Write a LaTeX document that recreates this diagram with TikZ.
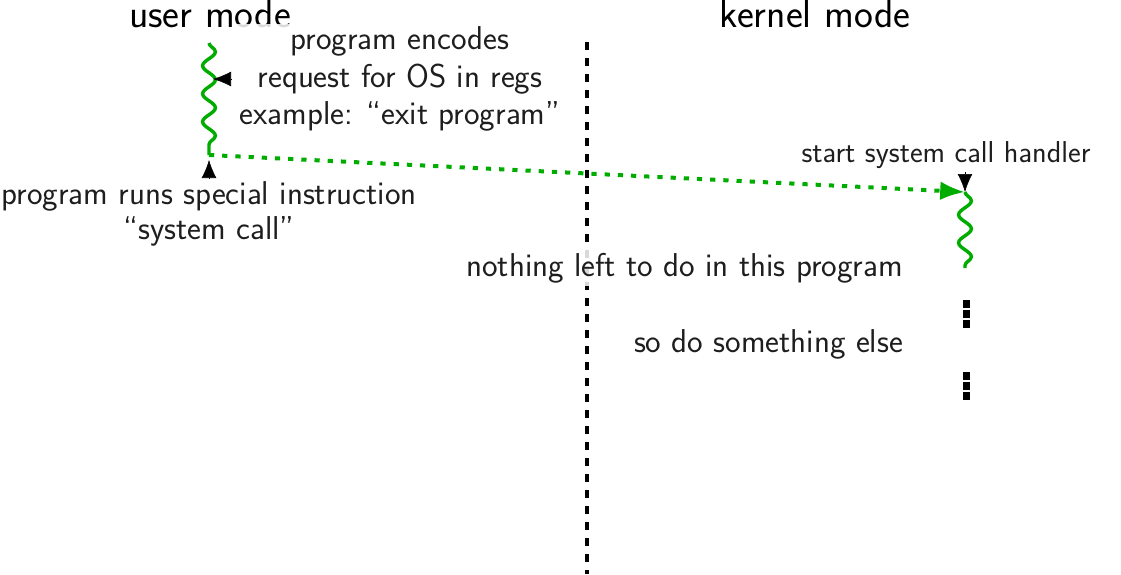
\documentclass[tikz,border=0pt]{standalone}
\usetikzlibrary{decorations.pathmorphing,arrows.meta}
\definecolor{grn}{RGB}{0,172,0}
\definecolor{txtc}{RGB}{30,30,30}
\begin{document}
\begin{tikzpicture}[x=0.025cm,y=-0.025cm,
  txt/.style={font=\sffamily\fontsize{23.5}{26.7}\selectfont, text=txtc, align=center,
    fill=white, fill opacity=0.85, text opacity=1, inner sep=2pt},
  title/.style={font=\sffamily\fontsize{28.5}{32}\selectfont, text=black, inner sep=0pt},
  vline/.style={line width=0.1cm, dash pattern=on 0.2cm off 0.2cm, black},
  wave/.style={grn, line width=0.085cm, decorate,
    decoration={snake, amplitude=0.16cm, segment length=0.7cm, pre length=0pt, post length=0pt}},
  gdot/.style={grn, line width=0.1cm, dash pattern=on 0.13cm off 0.2cm,
    -{Latex[length=0.62cm,width=0.47cm]}},
  blk/.style={black, line width=0.4pt, -{Latex[length=0.45cm,width=0.37cm]}},
  sq/.style={black, line width=0.175cm, dash pattern=on 0.21cm off 0.035cm}]
\useasboundingbox (0,0) rectangle (1121,574);

% vertical separator
\coordinate (vtop) at (587,42);
\coordinate (vbot) at (587,574);
\draw[vline] (vtop) -- (vbot);

% titles
\node[title, anchor=base] (user) at (210,27) {user mode};
\node[title, anchor=base] (kern) at (815,27) {kernel mode};

% coordinates
\coordinate (u1) at (209,43);
\coordinate (u2) at (209,155);
\coordinate (k1) at (965,192);
\coordinate (k2) at (965,268);

% green waves and transfer
\draw[wave] (u1) -- (u2);
\draw[wave] (k1) -- (k2);
\draw[gdot] (u2) -- (k1);

% texts
\node[txt] (enc) at (400,79) {program encodes\\request for OS in regs\\example: “exit program”};
\node[txt, font=\sffamily\fontsize{23.5}{24.9}\selectfont] (sys) at (209,214) {program runs special instruction\\“system call”};
\node[txt, font=\sffamily\fontsize{21.5}{26}\selectfont, anchor=base] (start) at (946,162) {start system call handler};
\node[txt, anchor=base east] (noth) at (906,276) {nothing left to do in this program};
\node[txt, anchor=base east] (else) at (906,352) {so do something else};

% black arrowheads
\coordinate (a1b) at (231,79);  \coordinate (a1) at (213,79);
\coordinate (a2b) at (209,178); \coordinate (a2) at (209,160);
\coordinate (a3b) at (965,172); \coordinate (a3) at (965,192);
\draw[blk] (a1b) -- (a1);
\draw[blk] (a2b) -- (a2);
\draw[blk] (a3b) -- (a3);

% black squares
\coordinate (s1) at (966,300); \coordinate (s2) at (966,328);
\coordinate (s3) at (966,372); \coordinate (s4) at (966,400);
\draw[sq] (s1) -- (s2);
\draw[sq] (s3) -- (s4);
\end{tikzpicture}
\end{document}
